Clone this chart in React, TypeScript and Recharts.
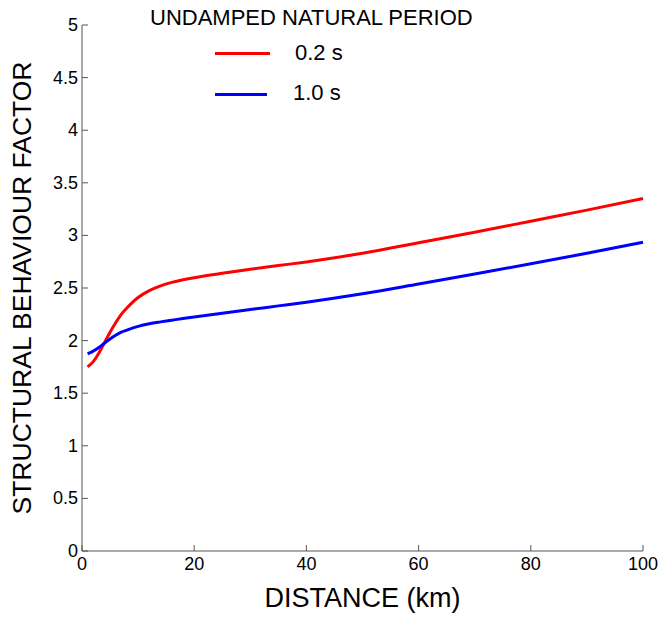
import React from 'react';
import { LineChart, Line, XAxis, YAxis } from 'recharts';

// distance (km) and structural behaviour factor
const distances = [1, 2, 3, 4, 5, 6, 7, 8, 10, 12, 14, 16, 18, 20, 25, 30, 35, 40, 50, 60, 70, 80, 90, 100];
const period02 = [1.75, 1.8, 1.88, 1.98, 2.08, 2.17, 2.25, 2.31, 2.41, 2.475, 2.52, 2.553, 2.578, 2.598, 2.64, 2.678, 2.713, 2.748, 2.83, 2.93, 3.03, 3.135, 3.24, 3.35];
const period10 = [1.875, 1.9, 1.935, 1.975, 2.015, 2.05, 2.08, 2.1, 2.135, 2.16, 2.178, 2.194, 2.21, 2.224, 2.26, 2.295, 2.33, 2.365, 2.445, 2.538, 2.633, 2.73, 2.83, 2.935];
const xTicks = [0, 20, 40, 60, 80, 100];
const yTicks = [0, 0.5, 1, 1.5, 2, 2.5, 3, 3.5, 4, 4.5, 5];

const data = distances.map((d, i) => ({ d, p02: period02[i], p10: period10[i] }));

const FONT = '"Liberation Sans", Arial, sans-serif';
const AXIS = '#555';

const XTick = (props: any) => {
  const { x, y, payload } = props;
  return (
    <g>
      <line x1={x} y1={y} x2={x} y2={y - 6} stroke={AXIS} />
      <text x={x} y={y} dy={19} textAnchor="middle" fontSize={18} fill="#000" fontFamily={FONT}>
        {payload.value}
      </text>
    </g>
  );
};

const YTick = (props: any) => {
  const { x, y, payload } = props;
  return (
    <g>
      <line x1={x} y1={y} x2={x + 6} y2={y} stroke={AXIS} />
      <text x={x - 4} y={y} dy={6} textAnchor="end" fontSize={18} fill="#000" fontFamily={FONT}>
        {payload.value}
      </text>
    </g>
  );
};

export default function App() {
  return (
    <div style={{ position: 'absolute', left: 0, top: 0, width: 662, height: 617, background: '#fff', fontFamily: FONT }}>
      <LineChart width={662} height={617} data={data} margin={{ top: 25, right: 19, left: 0, bottom: 0 }}>
        <XAxis
          dataKey="d"
          type="number"
          domain={[0, 100]}
          ticks={xTicks}
          tickSize={0}
          tickMargin={0}
          tickLine={false}
          tick={<XTick />}
          height={66}
          stroke={AXIS}
          label={{ value: 'DISTANCE (km)', position: 'insideBottom', offset: 10, style: { fontSize: 27, fill: '#000', fontFamily: FONT } }}
        />
        <YAxis
          type="number"
          domain={[0, 5]}
          ticks={yTicks}
          tickSize={0}
          tickMargin={0}
          tickLine={false}
          tick={<YTick />}
          width={82}
          stroke={AXIS}
          label={{ value: 'STRUCTURAL BEHAVIOUR FACTOR', angle: -90, position: 'insideLeft', offset: 22, style: { fontSize: 26.5, fill: '#000', fontFamily: FONT, textAnchor: 'middle' } }}
        />
        <Line type="monotone" dataKey="p02" stroke="#ff0000" strokeWidth={3} dot={false} isAnimationActive={false} />
        <Line type="monotone" dataKey="p10" stroke="#0000ff" strokeWidth={3} dot={false} isAnimationActive={false} />
      </LineChart>
      <div style={{ position: 'absolute', left: 150, top: 5, fontSize: 22, color: '#000', whiteSpace: 'nowrap' }}>
        UNDAMPED NATURAL PERIOD
      </div>
      <div style={{ position: 'absolute', left: 215, top: 52, width: 55, height: 3, background: '#ff0000' }} />
      <div style={{ position: 'absolute', left: 295, top: 40, fontSize: 22, color: '#000' }}>0.2 s</div>
      <div style={{ position: 'absolute', left: 215, top: 93, width: 52, height: 3, background: '#0000ff' }} />
      <div style={{ position: 'absolute', left: 293, top: 80, fontSize: 22, color: '#000' }}>1.0 s</div>
    </div>
  );
}
